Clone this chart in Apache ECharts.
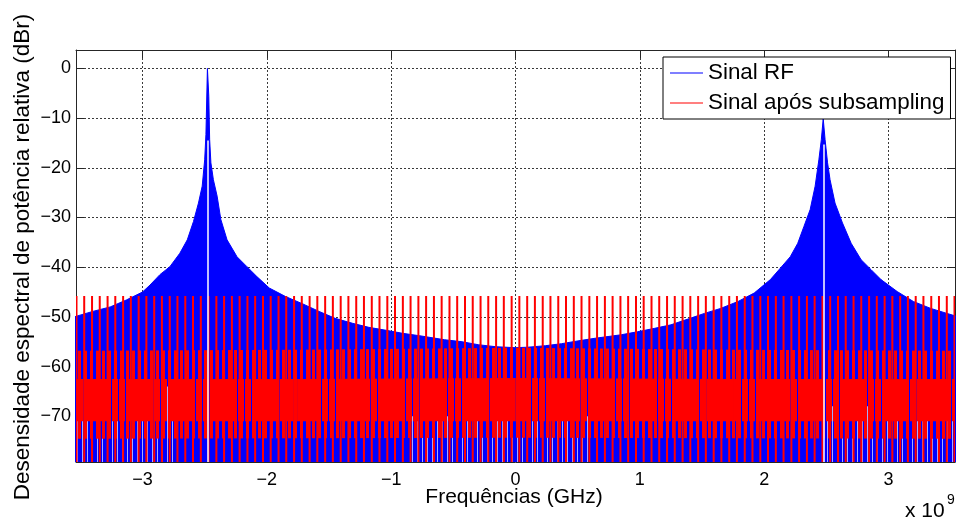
<!DOCTYPE html>
<html>
<head>
<meta charset="utf-8">
<style>
html,body{margin:0;padding:0;background:#fff;}
#chart{width:958px;height:520px;}
</style>
<script src="https://cdn.jsdelivr.net/npm/echarts@6/dist/echarts.min.js"></script>
</head>
<body>
<div id="chart"></div>
<script>
// ---- data (frequencies in GHz, levels in dBr) ----
const xTicks = [-3, -2, -1, 0, 1, 2, 3];
const yTicks = [-70, -60, -50, -40, -30, -20, -10, 0];

// upper envelope of the RF spectrum (blue)
const rfFreq = [-3.55, -3.40, -3.26, -3.13, -3.00, -2.94, -2.86, -2.78, -2.70, -2.64, -2.59, -2.55, -2.52, -2.50, -2.49,
  -2.478, -2.467, -2.46, -2.45, -2.43, -2.40, -2.37, -2.32, -2.24, -2.16, -2.08, -1.98, -1.85, -1.71, -1.58, -1.45,
  -1.31, -1.18, -1.04, -0.91, -0.77, -0.57, -0.43, -0.30, -0.16, 0.00, 0.10, 0.24, 0.37, 0.51, 0.64, 0.85, 0.98,
  1.12, 1.25, 1.38, 1.52, 1.65, 1.79, 1.92, 2.05, 2.13, 2.21, 2.27, 2.32, 2.37, 2.41, 2.44, 2.46, 2.475, 2.49,
  2.51, 2.53, 2.57, 2.63, 2.70, 2.78, 2.86, 2.94, 3.07, 3.20, 3.34, 3.47, 3.55];
const rfLevel = [-50.0, -48.9, -48.0, -46.6, -45.0, -43.6, -41.5, -39.9, -37.2, -34.5, -30.8, -27.1, -23.7, -18.4, -13.3,
  0.0, -5.6, -14.3, -19.0, -22.4, -25.7, -30.4, -34.5, -37.9, -39.9, -41.9, -44.2, -45.9, -47.4, -48.9, -50.3,
  -51.3, -52.1, -52.7, -53.3, -53.8, -54.6, -55.0, -55.6, -56.0, -56.2, -56.1, -55.8, -55.4, -54.8, -54.3, -53.6, -53.0,
  -52.3, -51.6, -50.5, -49.3, -48.3, -46.9, -45.2, -42.5, -40.2, -37.9, -35.2, -31.8, -28.4, -23.7, -18.4, -14.3, -10.1, -14.3,
  -19.0, -22.4, -27.1, -31.1, -35.2, -38.5, -40.5, -42.5, -44.9, -46.9, -48.3, -49.3, -49.9];

// carrier notches (white gaps) in the RF spectrum
const notchFreq = [-2.478, 2.478];
const notchTop = [-14.5, -15.3];

// zones where the RF lines are sparse (light stripes near the floor)
const sparseStart = [-3.535, -0.85, 2.45];
const sparseEnd = [-2.73, 0.60, 3.535];
const sparseTop = [-64, -70, -68];
const sparseBottom = [-80, -80, -80];

// dense body of the sub-sampled signal (red): outer mixed band and solid core
const redBandFreq = [-3.55, -1.75, 0.00, 1.75, 3.55];
const redBandTop = [-56.8, -56.6, -56.2, -56.6, -56.8];
const redBandBottom = [-74.5, -74.4, -74.3, -74.4, -74.5];
const redCoreTop = [-62.5, -62.5, -62.3, -62.5, -62.5];
const redCoreBottom = [-71.0, -71.0, -71.0, -71.0, -71.0];

// tall lines of the sub-sampled signal (red)
const redSpikeFreq = [-3.531, -3.469, -3.406, -3.344, -3.281, -3.219, -3.156, -3.094, -3.031, -2.969, -2.906, -2.844,
  -2.781, -2.719, -2.656, -2.594, -2.531, -2.469, -2.406, -2.344, -2.281, -2.219, -2.156, -2.094, -2.031, -1.969,
  -1.906, -1.844, -1.781, -1.719, -1.656, -1.594, -1.531, -1.469, -1.406, -1.344, -1.281, -1.219, -1.156, -1.094,
  -1.031, -0.969, -0.906, -0.844, -0.781, -0.719, -0.656, -0.594, -0.531, -0.469, -0.406, -0.344, -0.281, -0.219,
  -0.156, -0.094, -0.031, 0.031, 0.094, 0.156, 0.219, 0.281, 0.344, 0.406, 0.469, 0.531, 0.594, 0.656, 0.719, 0.781,
  0.844, 0.906, 0.969, 1.031, 1.094, 1.156, 1.219, 1.281, 1.344, 1.406, 1.469, 1.531, 1.594, 1.656, 1.719, 1.781,
  1.844, 1.906, 1.969, 2.031, 2.094, 2.156, 2.219, 2.281, 2.344, 2.406, 2.469, 2.531, 2.594, 2.656, 2.719, 2.781,
  2.844, 2.906, 2.969, 3.031, 3.094, 3.156, 3.219, 3.281, 3.344, 3.406, 3.469, 3.531];
const redSpikeTop = -45.8;
const redSpikeBottom = -80;

const xMin = -3.535, xMax = 3.535, yMin = -79.2, yMax = 3.7;

// ---- build ----
const FONT = "'Liberation Sans', Arial, Helvetica, sans-serif";
const minus = v => String(v).replace('-', '\u2212');

const rfData = rfFreq.map((f, i) => [f, rfLevel[i]]);
const bandData = redBandFreq.map((f, i) => [f, redBandTop[i], redBandBottom[i]]);
const coreData = redBandFreq.map((f, i) => [f, redCoreTop[i], redCoreBottom[i]]);
const sparseData = sparseStart.map((s, i) => [s, sparseEnd[i], sparseTop[i], sparseBottom[i]]);
const spikeData = redSpikeFreq.map(f => [f, redSpikeTop, redSpikeBottom]);
const notchLines = notchFreq.map((f, i) => [{ coord: [f, notchTop[i]] }, { coord: [f, yMin] }]);

function stripes(period, cols, color) {
  const c = document.createElement('canvas');
  c.width = period; c.height = 4;
  const ctx = c.getContext('2d');
  ctx.fillStyle = color;
  cols.forEach(x => ctx.fillRect(x, 0, 1, 4));
  return c;
}
const patOuter = stripes(6, [0, 1, 2], '#ff0000');
const patCore = stripes(7, [0, 1, 2, 3, 4, 5], '#ff0000');
const patSparse = stripes(5, [2], '#a8a8ff');

function bandRender(arr, pat) {
  return (params, api) => {
    const i = params.dataIndex;
    if (i >= arr.length - 1) return null;
    const a = arr[i], b = arr[i + 1];
    return {
      type: 'polygon',
      shape: { points: [api.coord([a[0], a[1]]), api.coord([b[0], b[1]]), api.coord([b[0], b[2]]), api.coord([a[0], a[2]])] },
      style: { fill: { image: pat, repeat: 'repeat' }, stroke: null }
    };
  };
}

const gridLine = { show: true, lineStyle: { color: '#3a3a3a', type: [2, 2], width: 1 } };
const axisLineStyle = { show: true, onZero: false, lineStyle: { color: '#262626', width: 1 } };

const chart = echarts.init(document.getElementById('chart'), null, { renderer: 'canvas' });
chart.setOption({
  animation: false,
  backgroundColor: '#fff',
  grid: { left: 76, right: 3, top: 50, bottom: 58, containLabel: false },
  xAxis: [
    {
      type: 'value', min: xMin, max: xMax, position: 'bottom',
      axisLine: axisLineStyle,
      axisTick: { show: true, inside: true, length: 8, customValues: xTicks, lineStyle: { color: '#262626' } },
      axisLabel: { customValues: xTicks, formatter: minus, fontFamily: FONT, fontSize: 18, color: '#000', margin: 9 },
      splitLine: gridLine
    },
    {
      type: 'value', min: xMin, max: xMax, position: 'top',
      axisLine: axisLineStyle,
      axisTick: { show: true, inside: true, length: 8, customValues: xTicks, lineStyle: { color: '#262626' } },
      axisLabel: { show: false },
      splitLine: { show: false }
    }
  ],
  yAxis: [
    {
      type: 'value', min: yMin, max: yMax, position: 'left',
      axisLine: axisLineStyle,
      axisTick: { show: true, inside: true, length: 8, customValues: yTicks, lineStyle: { color: '#262626' } },
      axisLabel: { customValues: yTicks, formatter: minus, fontFamily: FONT, fontSize: 18, color: '#000', margin: 5 },
      splitLine: gridLine
    },
    {
      type: 'value', min: yMin, max: yMax, position: 'right',
      axisLine: axisLineStyle,
      axisTick: { show: true, inside: true, length: 8, customValues: yTicks, lineStyle: { color: '#262626' } },
      axisLabel: { show: false },
      splitLine: { show: false }
    }
  ],
  legend: {
    left: 663, top: 57, orient: 'vertical',
    backgroundColor: '#fff', borderColor: '#000', borderWidth: 1,
    padding: [3, 6, 3, 7], itemGap: 4, itemWidth: 33, itemHeight: 1, icon: 'rect',
    textStyle: { fontFamily: FONT, fontSize: 22.4, color: '#000', lineHeight: 26 },
    data: [
      { name: 'Sinal RF', itemStyle: { color: '#0000ff' } },
      { name: 'Sinal após subsampling', itemStyle: { color: '#ff0000' } }
    ],
    z: 20
  },
  series: [
    {
      name: 'Sinal RF', type: 'line', data: rfData, symbol: 'none', z: 2,
      lineStyle: { color: '#0000ff', width: 1 },
      itemStyle: { color: '#0000ff' },
      areaStyle: { color: '#0000ff', opacity: 1, origin: 'start' },
      markLine: {
        silent: true, symbol: 'none', label: { show: false },
        lineStyle: { color: '#ffffff', width: 1.5, type: 'solid' },
        data: notchLines
      }
    },
    {
      name: 'Sinal RF', type: 'custom', data: sparseData, z: 2, clip: true,
      itemStyle: { color: '#0000ff' },
      encode: { x: [0, 1], y: [2, 3] },
      renderItem: (params, api) => {
        const p1 = api.coord([api.value(0), api.value(2)]);
        const p2 = api.coord([api.value(1), Math.max(api.value(3), yMin)]);
        return {
          type: 'rect',
          shape: { x: p1[0], y: p1[1], width: p2[0] - p1[0], height: p2[1] - p1[1] },
          style: { fill: { image: patSparse, repeat: 'repeat' }, stroke: null }
        };
      }
    },
    {
      name: 'Sinal após subsampling', type: 'custom', data: bandData, z: 3, clip: true,
      itemStyle: { color: '#ff0000' },
      encode: { x: 0, y: [1, 2] },
      renderItem: bandRender(bandData, patOuter)
    },
    {
      name: 'Sinal após subsampling', type: 'custom', data: coreData, z: 3, clip: true,
      itemStyle: { color: '#ff0000' },
      encode: { x: 0, y: [1, 2] },
      renderItem: bandRender(coreData, patCore)
    },
    {
      name: 'Sinal após subsampling', type: 'custom', data: spikeData, z: 4, clip: true,
      itemStyle: { color: '#ff0000' },
      encode: { x: 0, y: [1, 2] },
      renderItem: (params, api) => {
        const p1 = api.coord([api.value(0), api.value(1)]);
        const p2 = api.coord([api.value(0), Math.max(api.value(2), yMin)]);
        return {
          type: 'line',
          shape: { x1: p1[0], y1: p1[1], x2: p2[0], y2: p2[1] },
          style: { stroke: '#ff0000', lineWidth: 2 }
        };
      }
    }
  ],
  graphic: [
    {
      type: 'text', x: 23, y: 257, rotation: Math.PI / 2,
      style: { text: 'Desensidade espectral de potência relativa (dBr)', font: '22.5px ' + FONT, fill: '#000', textAlign: 'center', textVerticalAlign: 'middle' }
    },
    {
      type: 'text', x: 514, y: 497,
      style: { text: 'Frequências (GHz)', font: '21px ' + FONT, fill: '#000', textAlign: 'center', textVerticalAlign: 'middle' }
    },
    {
      type: 'text', x: 905, y: 511,
      style: { text: 'x 10', font: '21px ' + FONT, fill: '#000', textAlign: 'left', textVerticalAlign: 'middle' }
    },
    {
      type: 'text', x: 947, y: 500,
      style: { text: '9', font: '14px ' + FONT, fill: '#000', textAlign: 'left', textVerticalAlign: 'middle' }
    }
  ]
});
</script>
</body>
</html>
